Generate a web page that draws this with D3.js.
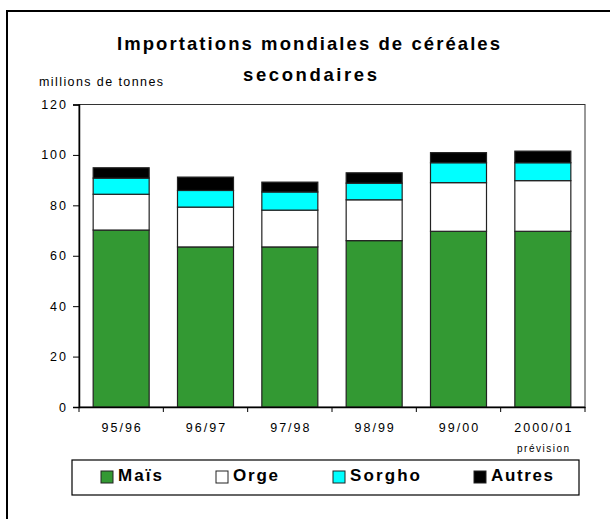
<!DOCTYPE html>
<html><head><meta charset="utf-8">
<script src="https://cdn.jsdelivr.net/npm/d3@7"></script>
<style>body{margin:0;background:#fff}svg{display:block}text{font-family:"Liberation Sans",Arial,sans-serif;fill:#000}</style>
</head><body>
<svg id="c" width="610" height="519"></svg>
<script>
const categories = ["95/96","96/97","97/98","98/99","99/00","2000/01"];
const seriesNames = ["Maïs","Orge","Sorgho","Autres"];
const mais   = [70.2, 63.5, 63.5, 66.0, 69.7, 69.7];
const orge   = [14.2, 15.8, 14.6, 16.2, 19.3, 20.1];
const sorgho = [6.4, 6.6, 7.2, 6.6, 7.9, 7.1];
const autres = [4.1, 5.3, 3.9, 4.1, 4.0, 4.6];
const yTicks = [0, 20, 40, 60, 80, 100, 120];
const colors = ["#339933", "#ffffff", "#00ffff", "#000000"];

const svg = d3.select("#c");
// outer frame
svg.append("rect").attr("x",7).attr("y",11).attr("width",700).attr("height",600)
  .attr("fill","none").attr("stroke","#000").attr("stroke-width",2);

const L=79, R=585, T=104.5, B=407;
const x = d3.scaleBand().domain(categories).range([L,R]).paddingInner(0.336).paddingOuter(0.168);
const y = d3.scaleLinear().domain([0,120]).range([B,T]);

// plot frame
svg.append("rect").attr("x",L).attr("y",T).attr("width",R-L).attr("height",B-T)
  .attr("fill","none").attr("stroke","#333").attr("stroke-width",1);

const table = categories.map((c,i)=>({cat:c, "Maïs":mais[i], "Orge":orge[i], "Sorgho":sorgho[i], "Autres":autres[i]}));
const stacked = d3.stack().keys(seriesNames)(table);

svg.append("g").selectAll("g").data(stacked).join("g")
  .attr("fill",(d,i)=>colors[i])
  .selectAll("rect").data(d=>d).join("rect")
  .attr("x",d=>x(d.data.cat)).attr("width",x.bandwidth())
  .attr("y",d=>y(d[1])).attr("height",d=>y(d[0])-y(d[1]))
  .attr("stroke","#222").attr("stroke-width",1.2);

// y axis
const yAxis = svg.append("g").attr("transform",`translate(${L},0)`)
  .call(d3.axisLeft(y).tickValues(yTicks).tickSize(6).tickPadding(7));
yAxis.select(".domain").attr("stroke","#000").attr("stroke-width",1.5);
yAxis.selectAll("line").attr("stroke","#000");
yAxis.selectAll("text").style("font-size","12.5px").style("letter-spacing","2px")
  .attr("font-family",null).attr("dx","2");

// x axis
const xAxis = svg.append("g").attr("transform",`translate(0,${B})`)
  .call(d3.axisBottom(x).tickSize(0).tickPadding(16));
xAxis.select(".domain").attr("stroke","#000").attr("stroke-width",1.5);
xAxis.selectAll("text").style("font-size","12.5px").style("letter-spacing","2px").attr("dx","1");
// tick marks at band boundaries
const bounds = categories.map(c=>x(c)-x.step()*x.paddingInner()/2).concat([R]);
svg.append("g").selectAll("line").data(bounds).join("line")
  .attr("x1",d=>d).attr("x2",d=>d).attr("y1",B).attr("y2",B+5)
  .attr("stroke","#000").attr("stroke-width",1);

svg.append("text").attr("x",x("2000/01")+x.bandwidth()/2+1).attr("y",452)
  .attr("text-anchor","middle").style("font-size","10px").style("letter-spacing","1.5px")
  .text("prévision");

// titles
svg.append("text").attr("x",117).attr("y",50).style("font-size","18.5px").style("font-weight","bold")
  .attr("textLength",383).attr("lengthAdjust","spacing").text("Importations mondiales de céréales");
svg.append("text").attr("x",243).attr("y",81).style("font-size","18.5px").style("font-weight","bold")
  .attr("textLength",134).attr("lengthAdjust","spacing").text("secondaires");
svg.append("text").attr("x",39).attr("y",86).style("font-size","12.5px")
  .attr("textLength",124).attr("lengthAdjust","spacing").text("millions de tonnes");

// legend
svg.append("rect").attr("x",72).attr("y",460).attr("width",507).attr("height",35)
  .attr("fill","#fff").attr("stroke","#000").attr("stroke-width",1.2);
const legSq = [101, 216, 333, 474];
const legW = [44, 45, 70, 62];
const lg = svg.append("g").selectAll("g").data(seriesNames).join("g");
lg.append("rect").attr("x",(d,i)=>legSq[i]).attr("y",471).attr("width",12).attr("height",12)
  .attr("fill",(d,i)=>colors[i]).attr("stroke","#222").attr("stroke-width",1);
lg.append("text").attr("x",(d,i)=>legSq[i]+17).attr("y",481)
  .style("font-size","17px").style("font-weight","bold")
  .attr("textLength",(d,i)=>legW[i]).attr("lengthAdjust","spacing").text(d=>d);
</script>
</body></html>
